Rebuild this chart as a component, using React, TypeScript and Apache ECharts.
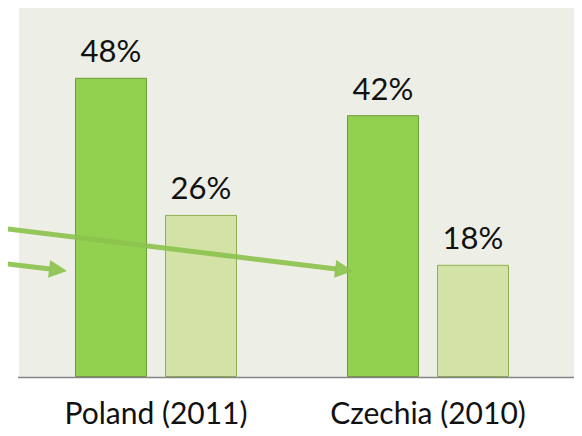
import React, { useEffect, useRef } from "react";
import * as echarts from "echarts";

const categories = ["Poland (2011)", "Czechia (2010)"];
const seriesA = [48, 42];
const seriesB = [26, 18];
const yMax = 60;

function arrow(x0: number, y0: number, x1: number, y1: number, color: string) {
  const dx = x1 - x0;
  const dy = y1 - y0;
  const len = Math.sqrt(dx * dx + dy * dy);
  const ux = dx / len;
  const uy = dy / len;
  const nx = -uy;
  const ny = ux;
  const headLen = 18;
  const half = 9;
  const bx = x1 - ux * headLen;
  const by = y1 - uy * headLen;
  return [
    {
      type: "line",
      shape: { x1: x0, y1: y0, x2: bx + ux * 1, y2: by + uy * 1 },
      style: { stroke: color, lineWidth: 5 },
      z: 100,
    },
    {
      type: "polygon",
      shape: {
        points: [
          [x1, y1],
          [bx + nx * half, by + ny * half],
          [bx - nx * half, by - ny * half],
        ],
      },
      style: { fill: color },
      z: 100,
    },
  ];
}

export default function App() {
  const ref = useRef<HTMLDivElement>(null);
  useEffect(() => {
    if (!ref.current) return;
    const chart = echarts.init(ref.current, null, { renderer: "svg" });
    const arrowColor = "rgba(140,194,78,0.92)";
    const valueLabel = {
      show: true,
      position: "top",
      distance: 12,
      formatter: "{c}%",
      color: "#111111",
      fontFamily: "Lato",
      fontSize: 31,
    };
    chart.setOption({
      animation: false,
      backgroundColor: "#ffffff",
      graphic: [
        {
          type: "rect",
          shape: { x: 19, y: 4, width: 563, height: 373 },
          style: { fill: "#EDEFE7" },
          z: -10,
          silent: true,
        },
        {
          type: "line",
          shape: { x1: 18, y1: 377.5, x2: 582, y2: 377.5 },
          style: { stroke: "#858585", lineWidth: 1.5 },
          z: 50,
        },
        ...arrow(0, 228, 353, 271, arrowColor),
        ...arrow(0, 263, 67, 271, arrowColor),
      ],
      grid: { left: 20, right: 18, top: 3, bottom: 59, containLabel: false },
      xAxis: {
        type: "category",
        data: categories,
        axisLine: { show: false },
        axisTick: { show: false },
        axisLabel: {
          color: "#111111",
          fontFamily: "Lato",
          fontSize: 30,
          margin: 20,
        },
      },
      yAxis: {
        type: "value",
        min: 0,
        max: yMax,
        show: false,
        splitLine: { show: false },
      },
      series: [
        {
          type: "bar",
          data: seriesA,
          barWidth: 72,
          barGap: "25%",
          itemStyle: { color: "#92D050", borderColor: "#6F9A38", borderWidth: 1 },
          label: valueLabel,
        },
        {
          type: "bar",
          data: seriesB,
          barWidth: 72,
          barGap: "25%",
          itemStyle: { color: "#D3E3A6", borderColor: "#8FAE50", borderWidth: 1 },
          label: valueLabel,
        },
      ],
    });
    return () => chart.dispose();
  }, []);
  return <div ref={ref} style={{ width: 582, height: 436, margin: -8 }} />;
}
